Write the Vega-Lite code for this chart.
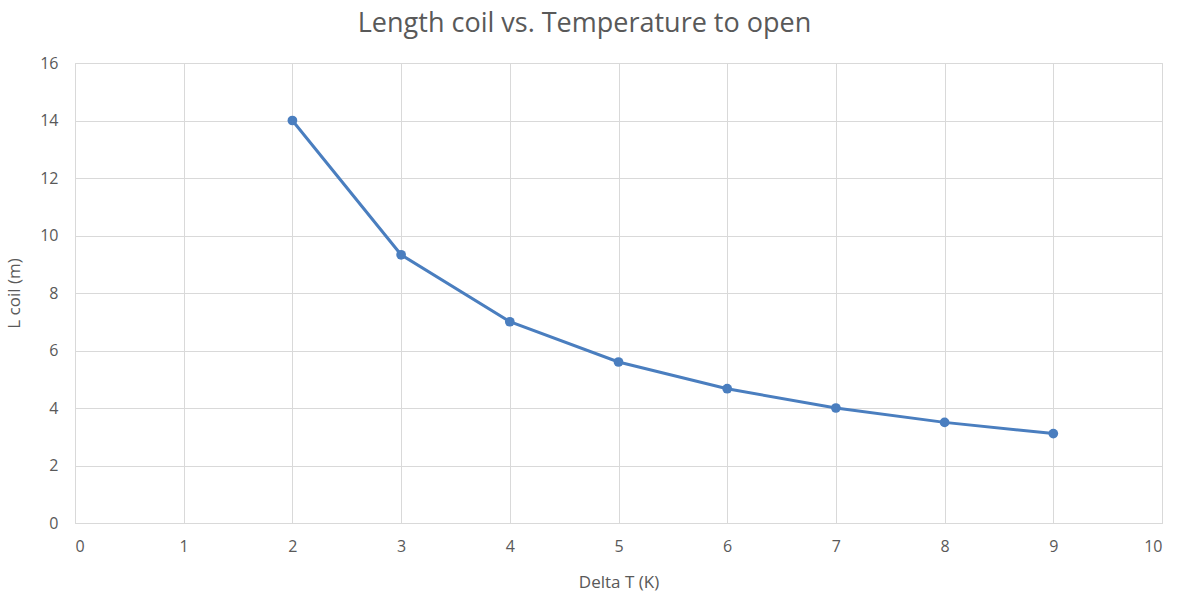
{
  "$schema": "https://vega.github.io/schema/vega-lite/v6.json",
  "autosize": "none",
  "width": 1087,
  "height": 460,
  "padding": {"left": 75, "top": 63, "right": 17, "bottom": 73},
  "background": "white",
  "title": {
    "text": "Length coil vs. Temperature to open",
    "anchor": "middle",
    "frame": "group",
    "dx": -34,
    "offset": 17,
    "fontSize": 27,
    "font": "Open Sans",
    "fontWeight": "normal",
    "color": "#595959"
  },
  "data": {
    "values": [
      {"dT": 2, "L": 14},
      {"dT": 3, "L": 9.33},
      {"dT": 4, "L": 7},
      {"dT": 5, "L": 5.6},
      {"dT": 6, "L": 4.67},
      {"dT": 7, "L": 4},
      {"dT": 8, "L": 3.5},
      {"dT": 9, "L": 3.11}
    ]
  },
  "config": {
    "view": {"stroke": "#d9d9d9", "strokeWidth": 1},
    "axis": {
      "labelFont": "Open Sans",
      "titleFont": "Open Sans",
      "labelColor": "#595959",
      "titleColor": "#595959",
      "labelFontSize": 16,
      "titleFontSize": 17,
      "titleFontWeight": "normal",
      "gridColor": "#d9d9d9",
      "gridOpacity": 1,
      "ticks": false,
      "domainColor": "#d9d9d9"
    }
  },
  "layer": [
    {
      "mark": {"type": "line", "color": "#4a7ebf", "strokeWidth": 3},
      "encoding": {
        "x": {"field": "dT", "type": "quantitative", "scale": {"domain": [0, 10], "nice": false},
              "axis": {"title": "Delta T (K)", "values": [0,1,2,3,4,5,6,7,8,9,10], "labelPadding": 15, "titleY": 51, "format": "d"}},
        "y": {"field": "L", "type": "quantitative", "scale": {"domain": [0, 16], "nice": false},
              "axis": {"title": "L coil (m)", "values": [0,2,4,6,8,10,12,14,16], "labelPadding": 17, "titleX": -52, "domain": false}}
      }
    },
    {
      "mark": {"type": "point", "filled": true, "opacity": 1, "color": "#4a7ebf", "size": 95},
      "encoding": {
        "x": {"field": "dT", "type": "quantitative"},
        "y": {"field": "L", "type": "quantitative"}
      }
    }
  ]
}
